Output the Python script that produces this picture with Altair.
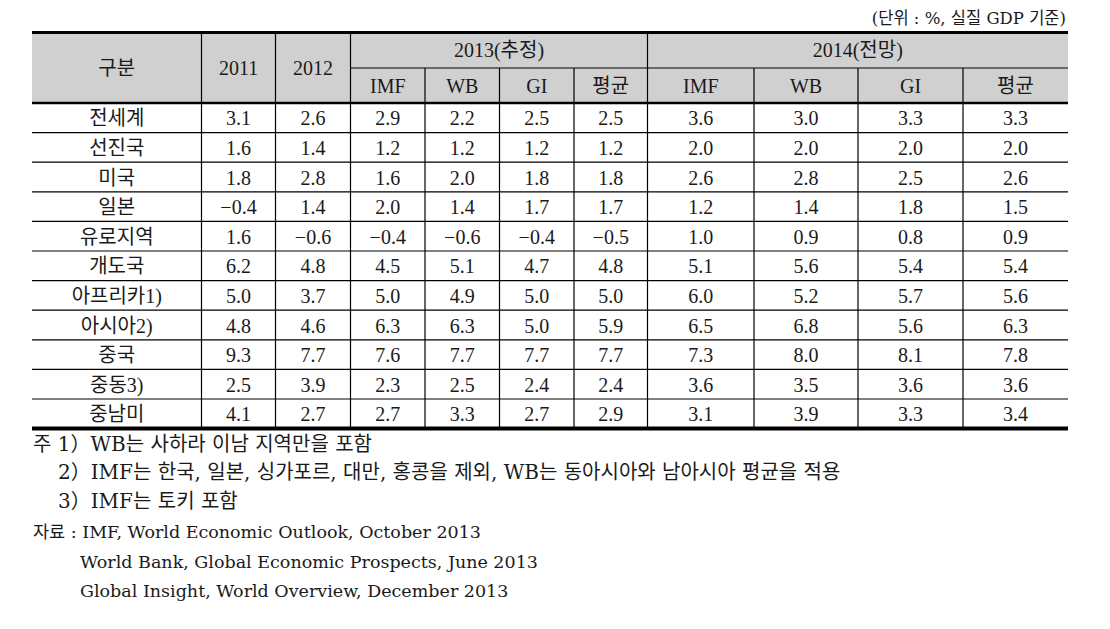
import altair as alt
import pandas as pd

# ---------------- data ----------------
regions = ["전세계", "선진국", "미국", "일본", "유로지역", "개도국",
           "아프리카1)", "아시아2)", "중국", "중동3)", "중남미"]
y2011 = [3.1, 1.6, 1.8, -0.4, 1.6, 6.2, 5.0, 4.8, 9.3, 2.5, 4.1]
y2012 = [2.6, 1.4, 2.8, 1.4, -0.6, 4.8, 3.7, 4.6, 7.7, 3.9, 2.7]
imf13 = [2.9, 1.2, 1.6, 2.0, -0.4, 4.5, 5.0, 6.3, 7.6, 2.3, 2.7]
wb13 = [2.2, 1.2, 2.0, 1.4, -0.6, 5.1, 4.9, 6.3, 7.7, 2.5, 3.3]
gi13 = [2.5, 1.2, 1.8, 1.7, -0.4, 4.7, 5.0, 5.0, 7.7, 2.4, 2.7]
avg13 = [2.5, 1.2, 1.8, 1.7, -0.5, 4.8, 5.0, 5.9, 7.7, 2.4, 2.9]
imf14 = [3.6, 2.0, 2.6, 1.2, 1.0, 5.1, 6.0, 6.5, 7.3, 3.6, 3.1]
wb14 = [3.0, 2.0, 2.8, 1.4, 0.9, 5.6, 5.2, 6.8, 8.0, 3.5, 3.9]
gi14 = [3.3, 2.0, 2.5, 1.8, 0.8, 5.4, 5.7, 5.6, 8.1, 3.6, 3.3]
avg14 = [3.3, 2.0, 2.6, 1.5, 0.9, 5.4, 5.6, 6.3, 7.8, 3.6, 3.4]

head_main = ["구분", "2011", "2012"]
group_labels = ["2013(추정)", "2014(전망)"]
sub_labels = ["IMF", "WB", "GI", "평균"]
unit_note = "(단위 : %, 실질 GDP 기준)"
notes = [
    "주 1）WB는 사하라 이남 지역만을 포함",
    "2）IMF는 한국, 일본, 싱가포르, 대만, 홍콩을 제외, WB는 동아시아와 남아시아 평균을 적용",
    "3）IMF는 토키 포함",
    "자료 : IMF, World Economic Outlook, October 2013",
    "World Bank, Global Economic Prospects, June 2013",
    "Global Insight, World Overview, December 2013",
]

# ---------------- layout (chart pixel space) ----------------
PADT = 8
W, H = 1094, 613 - PADT
OFFX, OFFY = 8, 8 + PADT
edges = [e - OFFX for e in [32, 201.5, 275.5, 350.5, 425, 499.5, 574, 647.5, 754, 858, 963, 1068]]
TOP = 32.5 - OFFY
MID = 68 - OFFY
HB = 103 - OFFY
RH = 29.6
BOT = HB + RH * 11
FONT = "Liberation Serif, Noto Sans CJK KR"
NFONT = "DejaVu Serif, Noto Sans CJK KR"
TXT = "#1a1a1a"

xs = alt.Scale(domain=[0, W], range=[0, W])
ys = alt.Scale(domain=[0, H], range=[0, H])


def X(f="x"):
    return alt.X(f"{f}:Q", scale=xs, axis=None)


def Y(f="y"):
    return alt.Y(f"{f}:Q", scale=ys, axis=None)


def fmt(v):
    return f"{v:.1f}".replace("-", "−")


# header background
bg = pd.DataFrame([{"x": edges[0], "x2": edges[-1], "y": TOP, "y2": HB}])
bg_layer = alt.Chart(bg).mark_rect(color="#d0d0d0").encode(
    x=X(), x2="x2:Q", y=Y(), y2="y2:Q")

# horizontal rules
hl = [{"x": edges[0], "x2": edges[-1], "y": TOP, "w": 3.2},
      {"x": edges[3], "x2": edges[-1], "y": MID, "w": 1.2},
      {"x": edges[0], "x2": edges[-1], "y": HB, "w": 2.6}]
for i in range(1, 11):
    hl.append({"x": edges[0], "x2": edges[-1], "y": HB + RH * i, "w": 1.2})
hl.append({"x": edges[0], "x2": edges[-1], "y": BOT, "w": 4})
hl_layer = alt.Chart(pd.DataFrame(hl)).mark_rule(color="black").encode(
    x=X(), x2="x2:Q", y=Y(),
    strokeWidth=alt.StrokeWidth("w:Q", scale=None))

# vertical rules
vl = []
for i, e in enumerate(edges[1:-1], start=1):
    start = TOP if i in (1, 2, 3, 7) else MID
    vl.append({"x": e, "y": start, "y2": BOT})
vl_layer = alt.Chart(pd.DataFrame(vl)).mark_rule(color="black", strokeWidth=1.2).encode(
    x=X(), y=Y(), y2="y2:Q")

# header texts
ht = []
for j, lab in enumerate(head_main):
    ht.append({"x": (edges[j] + edges[j + 1]) / 2, "y": (TOP + HB) / 2 + 1, "t": lab})
ht.append({"x": (edges[3] + edges[7]) / 2, "y": (TOP + MID) / 2 + 1, "t": group_labels[0]})
ht.append({"x": (edges[7] + edges[11]) / 2, "y": (TOP + MID) / 2 + 1, "t": group_labels[1]})
for g, base in enumerate([3, 7]):
    for k, lab in enumerate(sub_labels):
        ht.append({"x": (edges[base + k] + edges[base + k + 1]) / 2,
                   "y": (MID + HB) / 2 + 1.5, "t": lab})

# body texts
cols = [regions, [fmt(v) for v in y2011], [fmt(v) for v in y2012],
        [fmt(v) for v in imf13], [fmt(v) for v in wb13], [fmt(v) for v in gi13],
        [fmt(v) for v in avg13], [fmt(v) for v in imf14], [fmt(v) for v in wb14],
        [fmt(v) for v in gi14], [fmt(v) for v in avg14]]
for j, col in enumerate(cols):
    for i, t in enumerate(col):
        ht.append({"x": (edges[j] + edges[j + 1]) / 2,
                   "y": HB + RH * (i + 0.5) + 1.5, "t": t})

txt_layer = alt.Chart(pd.DataFrame(ht)).mark_text(
    font=FONT, fontSize=20, color=TXT, align="center", baseline="middle").encode(
    x=X(), y=Y(), text="t:N")

# unit note
un_layer = alt.Chart(pd.DataFrame([{"x": 1066 - OFFX, "y": 19 - OFFY, "t": unit_note}])).mark_text(
    font=NFONT, fontSize=16.5, color=TXT, align="right", baseline="middle").encode(
    x=X(), y=Y(), text="t:N")

# footnotes
note_x = [33, 58, 58, 33, 80, 80]
note_y = [444.5, 473, 502, 533, 563, 592]
note_fs = [20, 20, 20, 17.5, 17.5, 17.5]
nd = pd.DataFrame([{"x": note_x[i] - OFFX, "y": note_y[i] - OFFY, "t": notes[i], "fs": note_fs[i]}
                   for i in range(len(notes))])
note_layer = alt.Chart(nd).mark_text(
    font=NFONT, color=TXT, align="left", baseline="middle").encode(
    x=X(), y=Y(), text="t:N", size=alt.Size("fs:Q", scale=None))

chart = alt.layer(bg_layer, hl_layer, vl_layer, txt_layer, un_layer, note_layer).properties(
    width=W, height=H,
    padding={"top": PADT, "left": 0, "right": 0, "bottom": 0},
    autosize=alt.AutoSizeParams(type="none")
).configure_view(stroke=None)

chart.save("out.html", embed_options={"renderer": "svg", "actions": False})
